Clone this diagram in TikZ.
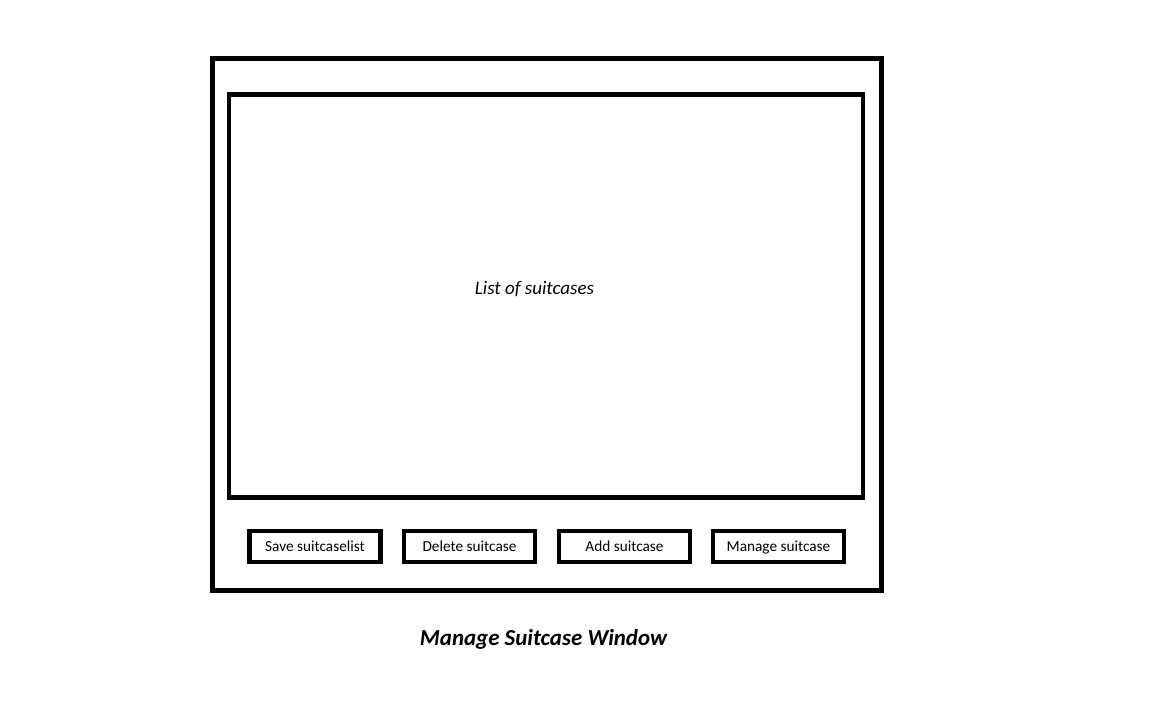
\documentclass[tikz,border=0pt]{standalone}
\usepackage{fontspec}
\setmainfont{Carlito}
\begin{document}
\begin{tikzpicture}[x=1pt,y=-1pt,
  frame/.style={draw=black,line width=4.8pt},
  btn/.style={frame,minimum width=131pt,minimum height=31pt,inner sep=0pt},
  lbl/.style={inner sep=0pt,anchor=base},
  btntxt/.style={lbl,font=\fontsize{15.3}{18}\selectfont}]
\useasboundingbox[fill=white] (0,0) rectangle (1152,720);
\draw[frame] (212.5,58.5) rectangle (881.5,590.5);
\node[frame,minimum width=634pt,minimum height=403pt,inner sep=0pt] (list) at (546,296) {};
\node[lbl,font=\fontsize{19}{22}\selectfont\itshape] (listtxt) at (534.5,294) {List of suitcases};
\node[btn] (save) at (315,546.5) {};
\node[btn] (del) at (469.5,546.5) {};
\node[btn] (add) at (624.5,546.5) {};
\node[btn] (man) at (778.5,546.5) {};
\node[btntxt] at ([yshift=-4.5pt]save.center) {Save suitcaselist};
\node[btntxt] at ([yshift=-4.5pt]del.center) {Delete suitcase};
\node[btntxt] at ([yshift=-4.5pt]add.center) {Add suitcase};
\node[btntxt] at ([yshift=-4.5pt]man.center) {Manage suitcase};
\node[lbl,font=\fontsize{22.9}{27}\selectfont\bfseries\itshape] (title) at (543.5,645) {Manage Suitcase Window};
\end{tikzpicture}
\end{document}
